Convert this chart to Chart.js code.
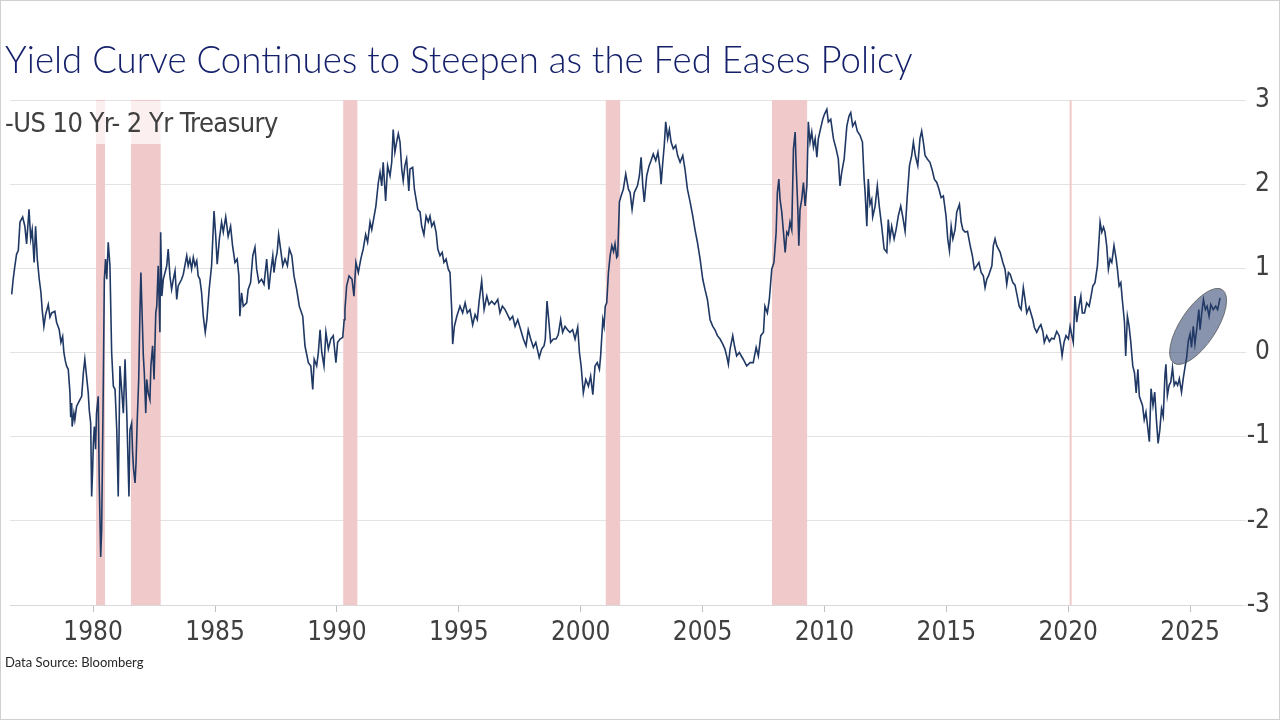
<!DOCTYPE html>
<html>
<head>
<meta charset="utf-8">
<title>Yield Curve</title>
<script src="https://cdn.jsdelivr.net/npm/chart.js@4.4.1/dist/chart.umd.min.js"></script>
<style>
    html, body { margin: 0; padding: 0; background: #fff; }
    #slide { position: relative; width: 1280px; height: 720px; overflow: hidden; }
    #chart { position: absolute; left: 0; top: 0; }
    #frame { position: absolute; left: 0; top: 0; width: 1280px; height: 720px; box-sizing: border-box; border: 1px solid #d0d0d0; pointer-events: none; }
    #title { position: absolute; left: 5px; top: 37px; font-family: Lato, "Open Sans", sans-serif; font-weight: 300; font-size: 36.6px; color: #14206a; white-space: nowrap; }
    #legend { position: absolute; left: 1px; top: 101px; width: 282px; height: 43px; box-sizing: border-box; padding-left: 4px; background: rgba(255, 255, 255, 0.7); font-family: "Liberation Sans Narrow", "DejaVu Sans Condensed", sans-serif; font-size: 27px; letter-spacing: -0.55px; line-height: 43px; color: #404040; white-space: nowrap; }
    #source { position: absolute; left: 5px; top: 654px; font-family: Lato, "Open Sans", sans-serif; font-size: 13px; color: #262626; }
</style>
</head>
<body>
<div id="slide">
    <canvas id="chart" width="1280" height="720"></canvas>
    <div id="title">Yield Curve Continues to Steepen as the Fed Eases Policy</div>
    <div id="legend">-US 10 Yr- 2 Yr Treasury</div>
    <div id="source">Data Source: Bloomberg</div>
    <div id="frame"></div>
</div>
<script>
// US 10 Yr - 2 Yr Treasury spread (%)
const dates = [
    1976.66, 1976.72, 1976.79, 1976.86, 1976.93, 1977.00, 1977.11, 1977.20, 1977.27, 1977.37,
    1977.44, 1977.50, 1977.58, 1977.64, 1977.71, 1977.79, 1977.86, 1977.91, 1977.98, 1978.05,
    1978.16, 1978.23, 1978.30, 1978.43, 1978.50, 1978.61, 1978.68, 1978.75, 1978.80, 1978.86,
    1978.91, 1978.98, 1979.05, 1979.08, 1979.12, 1979.14, 1979.21, 1979.25, 1979.32, 1979.46,
    1979.53, 1979.60, 1979.66, 1979.73, 1979.80, 1979.84, 1979.90, 1979.94, 1979.98, 1980.01,
    1980.05, 1980.10, 1980.14, 1980.21, 1980.25, 1980.31, 1980.35, 1980.42, 1980.46, 1980.51,
    1980.56, 1980.62, 1980.69, 1980.76, 1980.83, 1980.90, 1980.97, 1981.03, 1981.10, 1981.24,
    1981.31, 1981.38, 1981.47, 1981.51, 1981.58, 1981.62, 1981.66, 1981.72, 1981.76, 1981.81,
    1981.87, 1981.92, 1981.96, 1982.00, 1982.06, 1982.10, 1982.16, 1982.20, 1982.26, 1982.33,
    1982.37, 1982.44, 1982.50, 1982.57, 1982.61, 1982.67, 1982.74, 1982.77, 1982.82, 1982.88,
    1983.02, 1983.08, 1983.15, 1983.22, 1983.29, 1983.36, 1983.43, 1983.49, 1983.63, 1983.70,
    1983.84, 1983.90, 1983.97, 1984.04, 1984.11, 1984.18, 1984.25, 1984.31, 1984.38, 1984.45,
    1984.52, 1984.60, 1984.67, 1984.76, 1984.86, 1984.96, 1985.03, 1985.09, 1985.18, 1985.27,
    1985.34, 1985.44, 1985.54, 1985.64, 1985.72, 1985.82, 1985.91, 1985.98, 1986.02, 1986.09,
    1986.16, 1986.30, 1986.36, 1986.46, 1986.55, 1986.64, 1986.71, 1986.80, 1986.91, 1987.01,
    1987.12, 1987.21, 1987.28, 1987.37, 1987.42, 1987.49, 1987.55, 1987.61, 1987.69, 1987.78,
    1987.87, 1987.97, 1988.05, 1988.15, 1988.24, 1988.35, 1988.46, 1988.60, 1988.69, 1988.83,
    1988.93, 1989.01, 1989.07, 1989.17, 1989.24, 1989.31, 1989.38, 1989.47, 1989.55, 1989.65,
    1989.75, 1989.85, 1989.96, 1990.03, 1990.13, 1990.24, 1990.30, 1990.33, 1990.40, 1990.50,
    1990.62, 1990.70, 1990.78, 1990.88, 1990.98, 1991.08, 1991.18, 1991.26, 1991.36, 1991.43,
    1991.60, 1991.70, 1991.77, 1991.84, 1991.90, 1992.00, 1992.08, 1992.18, 1992.25, 1992.31,
    1992.38, 1992.45, 1992.52, 1992.59, 1992.66, 1992.72, 1992.79, 1992.86, 1992.95, 1993.00,
    1993.11, 1993.18, 1993.25, 1993.32, 1993.41, 1993.48, 1993.57, 1993.66, 1993.75, 1993.82,
    1993.89, 1993.98, 1994.07, 1994.14, 1994.23, 1994.32, 1994.39, 1994.48, 1994.57, 1994.64,
    1994.71, 1994.75, 1994.82, 1994.92, 1995.05, 1995.16, 1995.26, 1995.35, 1995.46, 1995.57,
    1995.67, 1995.76, 1995.84, 1995.94, 1996.04, 1996.15, 1996.24, 1996.35, 1996.47, 1996.60,
    1996.69, 1996.79, 1996.90, 1997.00, 1997.10, 1997.21, 1997.31, 1997.42, 1997.54, 1997.65,
    1997.76, 1997.85, 1997.95, 1998.06, 1998.16, 1998.24, 1998.30, 1998.40, 1998.50, 1998.55,
    1998.62, 1998.69, 1998.77, 1998.88, 1998.99, 1999.08, 1999.18, 1999.26, 1999.36, 1999.46,
    1999.56, 1999.67, 1999.77, 1999.88, 1999.95, 2000.02, 2000.11, 2000.21, 2000.32, 2000.41,
    2000.50, 2000.59, 2000.68, 2000.77, 2000.82, 2000.91, 2000.96, 2001.01, 2001.07, 2001.14,
    2001.21, 2001.28, 2001.35, 2001.41, 2001.48, 2001.52, 2001.59, 2001.66, 2001.75, 2001.85,
    2001.96, 2002.03, 2002.11, 2002.20, 2002.33, 2002.41, 2002.48, 2002.55, 2002.61, 2002.71,
    2002.81, 2002.89, 2002.98, 2003.08, 2003.17, 2003.26, 2003.30, 2003.37, 2003.43, 2003.49,
    2003.57, 2003.64, 2003.71, 2003.80, 2003.90, 2003.98, 2004.08, 2004.19, 2004.28, 2004.38,
    2004.49, 2004.60, 2004.69, 2004.79, 2004.90, 2005.01, 2005.10, 2005.20, 2005.31, 2005.42,
    2005.51, 2005.61, 2005.72, 2005.83, 2005.92, 2005.99, 2006.06, 2006.13, 2006.24, 2006.31,
    2006.40, 2006.51, 2006.67, 2006.81, 2006.95, 2007.08, 2007.20, 2007.29, 2007.39, 2007.50,
    2007.56, 2007.66, 2007.74, 2007.84, 2007.93, 2008.02, 2008.07, 2008.13, 2008.18, 2008.25,
    2008.32, 2008.39, 2008.46, 2008.52, 2008.59, 2008.66, 2008.73, 2008.80, 2008.84, 2008.91,
    2008.95, 2009.00, 2009.07, 2009.14, 2009.21, 2009.28, 2009.34, 2009.41, 2009.48, 2009.55,
    2009.62, 2009.69, 2009.75, 2009.82, 2009.93, 2010.00, 2010.10, 2010.16, 2010.26, 2010.37,
    2010.48, 2010.57, 2010.64, 2010.71, 2010.81, 2010.92, 2011.01, 2011.08, 2011.16, 2011.26,
    2011.35, 2011.46, 2011.56, 2011.63, 2011.67, 2011.74, 2011.80, 2011.87, 2011.94, 2011.98,
    2012.08, 2012.17, 2012.25, 2012.35, 2012.45, 2012.56, 2012.62, 2012.69, 2012.76, 2012.86,
    2012.94, 2013.03, 2013.13, 2013.21, 2013.31, 2013.40, 2013.49, 2013.58, 2013.65, 2013.73,
    2013.83, 2013.92, 2013.99, 2014.06, 2014.13, 2014.22, 2014.33, 2014.43, 2014.51, 2014.61,
    2014.70, 2014.79, 2014.88, 2014.99, 2015.06, 2015.13, 2015.20, 2015.27, 2015.36, 2015.43,
    2015.54, 2015.61, 2015.68, 2015.77, 2015.87, 2015.98, 2016.07, 2016.15, 2016.25, 2016.34,
    2016.43, 2016.52, 2016.59, 2016.66, 2016.73, 2016.87, 2016.93, 2017.00, 2017.07, 2017.21,
    2017.32, 2017.41, 2017.48, 2017.55, 2017.62, 2017.73, 2017.82, 2017.89, 2017.99, 2018.07,
    2018.16, 2018.23, 2018.30, 2018.40, 2018.47, 2018.55, 2018.61, 2018.71, 2018.81, 2018.88,
    2018.96, 2019.02, 2019.12, 2019.23, 2019.32, 2019.42, 2019.53, 2019.63, 2019.70, 2019.75,
    2019.83, 2019.91, 2020.01, 2020.08, 2020.15, 2020.21, 2020.28, 2020.35, 2020.42, 2020.52,
    2020.58, 2020.67, 2020.76, 2020.86, 2020.94, 2021.01, 2021.10, 2021.20, 2021.26, 2021.31,
    2021.38, 2021.45, 2021.51, 2021.58, 2021.65, 2021.72, 2021.79, 2021.88, 2021.97, 2022.02,
    2022.09, 2022.16, 2022.22, 2022.31, 2022.36, 2022.43, 2022.50, 2022.57, 2022.65, 2022.72,
    2022.79, 2022.86, 2022.92, 2023.05, 2023.12, 2023.19, 2023.26, 2023.33, 2023.40, 2023.48,
    2023.55, 2023.62, 2023.69, 2023.76, 2023.83, 2023.90, 2023.97, 2024.01, 2024.07, 2024.14,
    2024.21, 2024.28, 2024.35, 2024.42, 2024.49, 2024.56, 2024.65, 2024.72, 2024.79, 2024.86,
    2024.93, 2025.00, 2025.06, 2025.13, 2025.20, 2025.27, 2025.36, 2025.41, 2025.48, 2025.55,
    2025.63, 2025.70, 2025.78, 2025.85, 2025.95, 2026.05, 2026.13, 2026.23
];

const spread = [
    0.69, 0.87, 1.03, 1.17, 1.21, 1.55, 1.61, 1.50, 1.29, 1.70,
    1.35, 1.46, 1.07, 1.50, 1.11, 0.87, 0.71, 0.51, 0.31, 0.45,
    0.57, 0.42, 0.47, 0.49, 0.36, 0.27, 0.12, 0.19, 0.00, -0.10,
    -0.16, -0.20, -0.48, -0.77, -0.60, -0.88, -0.72, -0.80, -0.64, -0.56,
    -0.52, -0.24, -0.08, -0.28, -0.48, -0.68, -0.84, -1.71, -1.39, -1.07,
    -0.88, -1.15, -0.72, -0.52, -1.51, -2.43, -2.11, -0.32, 0.87, 1.11,
    0.87, 1.31, 1.03, 0.00, -0.40, -0.44, -0.92, -1.71, -0.16, -0.72,
    -0.08, -0.72, -1.71, -0.92, -0.84, -1.19, -1.39, -1.55, -1.31, -0.80,
    -0.32, 0.47, 0.95, 0.55, -0.04, -0.24, -0.72, -0.32, -0.48, -0.56,
    -0.16, 0.08, -0.32, 0.47, 0.55, 1.03, 0.24, 1.43, 0.67, 0.87,
    1.03, 1.23, 0.91, 0.75, 0.87, 0.97, 0.63, 0.79, 0.87, 0.93,
    1.15, 1.03, 1.11, 0.99, 1.13, 1.03, 1.09, 0.91, 0.87, 0.71,
    0.43, 0.24, 0.40, 0.75, 1.03, 1.68, 1.38, 1.05, 1.35, 1.55,
    1.43, 1.61, 1.38, 1.50, 1.27, 1.07, 1.11, 0.91, 0.43, 0.71,
    0.55, 0.59, 0.75, 0.83, 1.15, 1.25, 0.99, 0.83, 0.87, 0.81,
    1.11, 0.75, 0.95, 1.15, 0.95, 1.11, 1.19, 1.40, 1.23, 1.03,
    1.11, 1.03, 1.23, 1.15, 0.91, 0.75, 0.55, 0.43, 0.08, -0.12,
    -0.16, -0.44, -0.08, -0.16, 0.00, 0.27, 0.00, -0.16, 0.24, 0.04,
    0.16, 0.20, -0.12, 0.12, 0.16, 0.18, 0.39, 0.51, 0.79, 0.91,
    0.87, 0.67, 1.07, 0.95, 1.11, 1.23, 1.40, 1.31, 1.55, 1.46,
    1.74, 2.02, 2.14, 1.98, 2.26, 1.80, 2.22, 2.10, 2.26, 2.65,
    2.38, 2.50, 2.60, 2.50, 2.18, 2.04, 2.22, 2.30, 1.92, 2.18,
    2.20, 1.94, 1.82, 1.70, 1.67, 1.50, 1.40, 1.62, 1.55, 1.62,
    1.50, 1.55, 1.43, 1.23, 1.15, 1.19, 1.07, 1.11, 0.99, 0.95,
    0.51, 0.10, 0.31, 0.43, 0.55, 0.47, 0.59, 0.47, 0.51, 0.33,
    0.45, 0.39, 0.62, 0.85, 0.51, 0.67, 0.57, 0.61, 0.57, 0.63,
    0.47, 0.55, 0.51, 0.45, 0.39, 0.43, 0.31, 0.39, 0.27, 0.16,
    0.08, 0.27, 0.16, 0.06, 0.12, 0.02, -0.06, 0.04, 0.08, 0.16,
    0.61, 0.39, 0.12, 0.16, 0.16, 0.21, 0.39, 0.24, 0.31, 0.27,
    0.24, 0.27, 0.16, 0.30, 0.00, -0.16, -0.48, -0.32, -0.40, -0.28,
    -0.50, -0.16, -0.12, -0.20, -0.04, 0.39, 0.31, 0.55, 0.59, 0.95,
    1.15, 1.27, 1.20, 1.29, 1.13, 1.15, 1.79, 1.86, 1.94, 2.12,
    1.94, 1.90, 1.70, 1.90, 1.98, 2.10, 2.32, 1.98, 1.79, 2.10,
    2.22, 2.28, 2.36, 2.28, 2.38, 2.18, 2.00, 2.26, 2.46, 2.74,
    2.54, 2.65, 2.50, 2.42, 2.46, 2.34, 2.26, 2.34, 2.18, 1.94,
    1.79, 1.62, 1.46, 1.31, 1.11, 0.87, 0.75, 0.63, 0.39, 0.31,
    0.27, 0.20, 0.16, 0.10, 0.04, -0.04, -0.14, 0.04, 0.20, 0.08,
    -0.04, 0.00, -0.08, -0.16, -0.12, -0.12, 0.06, -0.04, 0.20, 0.24,
    0.55, 0.47, 0.63, 0.99, 1.07, 1.43, 1.90, 2.06, 1.82, 1.67,
    1.43, 1.19, 1.43, 1.40, 1.55, 1.46, 2.42, 2.62, 2.22, 1.70,
    1.27, 1.70, 1.82, 2.02, 1.74, 1.98, 2.74, 2.50, 2.62, 2.44,
    2.54, 2.32, 2.54, 2.63, 2.77, 2.83, 2.89, 2.74, 2.77, 2.54,
    2.42, 2.30, 1.98, 2.14, 2.30, 2.69, 2.81, 2.85, 2.69, 2.74,
    2.63, 2.58, 2.50, 2.06, 1.90, 1.50, 2.06, 1.76, 1.82, 1.61,
    1.74, 1.98, 1.74, 1.50, 1.23, 1.19, 1.58, 1.35, 1.50, 1.35,
    1.46, 1.62, 1.74, 1.62, 1.44, 1.86, 2.22, 2.34, 2.50, 2.34,
    2.22, 2.54, 2.63, 2.50, 2.34, 2.30, 2.26, 2.16, 2.06, 2.02,
    1.94, 1.84, 1.86, 1.62, 1.35, 1.21, 1.50, 1.35, 1.46, 1.67,
    1.76, 1.55, 1.46, 1.43, 1.44, 1.27, 1.15, 0.99, 1.03, 1.07,
    0.95, 0.91, 0.77, 0.87, 0.91, 1.03, 1.27, 1.35, 1.27, 1.19,
    1.07, 0.99, 0.81, 0.95, 0.93, 0.83, 0.80, 0.70, 0.55, 0.51,
    0.77, 0.63, 0.47, 0.54, 0.47, 0.39, 0.30, 0.24, 0.30, 0.33,
    0.25, 0.12, 0.20, 0.13, 0.17, 0.16, 0.25, 0.20, 0.08, -0.04,
    0.12, 0.20, 0.16, 0.31, 0.20, 0.12, 0.67, 0.36, 0.51, 0.67,
    0.47, 0.47, 0.59, 0.55, 0.67, 0.79, 0.83, 1.03, 1.31, 1.55,
    1.43, 1.49, 1.43, 1.27, 0.99, 1.11, 1.07, 1.27, 1.11, 0.99,
    0.79, 0.83, 0.63, 0.36, -0.04, 0.43, 0.31, 0.12, -0.16, -0.24,
    -0.48, -0.20, -0.52, -0.63, -0.80, -0.71, -0.88, -1.06, -0.43, -0.63,
    -0.47, -0.80, -1.08, -0.92, -0.67, -0.76, -0.27, -0.14, -0.51, -0.39,
    -0.35, -0.18, -0.39, -0.35, -0.39, -0.31, -0.47, -0.31, -0.18, -0.06,
    0.14, 0.22, 0.06, 0.31, 0.10, 0.27, 0.51, 0.27, 0.47, 0.63,
    0.51, 0.55, 0.43, 0.57, 0.51, 0.55, 0.51, 0.65
];

// X axis labels
const tickYears = [1980, 1985, 1990, 1995, 2000, 2005, 2010, 2015, 2020, 2025];

// Recession periods (shaded)
const recessionStart = [1980.12, 1981.55, 1990.26, 2001.03, 2007.85, 2020.06];
const recessionEnd = [1980.49, 1982.77, 1990.84, 2001.62, 2009.29, 2020.14];

// Highlight ellipse round the latest steepening
const ellipseCenter = { x: 2025.33, y: 0.31 };

if (dates.length !== spread.length) console.warn('dates/spread length mismatch', dates.length, spread.length);

const axisFont = { family: '"Liberation Sans Narrow", "DejaVu Sans Condensed", sans-serif', size: 26 };

// Shade recession bands behind the line
const recessionBands = {
    id: 'recessionBands',
    beforeDatasetsDraw(chart) {
        const { ctx, chartArea, scales } = chart;
        ctx.save();
        ctx.fillStyle = '#f0caca';
        recessionStart.forEach((start, i) => {
            const x1 = scales.x.getPixelForValue(start);
            const x2 = scales.x.getPixelForValue(recessionEnd[i]);
            ctx.fillRect(x1, chartArea.top, Math.max(x2 - x1, 2), chartArea.bottom - chartArea.top);
        });
        ctx.restore();
    }
};

// Draw the highlight ellipse over the line
const highlightEllipse = {
    id: 'highlightEllipse',
    afterDatasetsDraw(chart) {
        const { ctx, scales } = chart;
        const cx = scales.x.getPixelForValue(ellipseCenter.x);
        const cy = scales.y.getPixelForValue(ellipseCenter.y);
        ctx.save();
        ctx.beginPath();
        ctx.ellipse(cx, cy, 44, 18, -56.6 * Math.PI / 180, 0, Math.PI * 2);
        ctx.fillStyle = 'rgba(38, 60, 105, 0.55)';
        ctx.fill();
        ctx.lineWidth = 1;
        ctx.strokeStyle = 'rgba(90, 90, 90, 0.8)';
        ctx.stroke();
        ctx.restore();
    }
};

const ctx = document.getElementById('chart').getContext('2d');
const spreadChart = new Chart(ctx, {
    type: 'line',
    data: {
        datasets: [{
            label: 'US 10 Yr- 2 Yr Treasury',
            data: dates.map((d, i) => ({ x: d, y: spread[i] })),
            borderColor: '#1f3864',
            borderWidth: 1.6,
            pointRadius: 0,
            tension: 0,
            fill: false
        }]
    },
    options: {
        responsive: false,
        animation: false,
        layout: { padding: { left: 10, top: 100, right: 10, bottom: 65 } },
        plugins: { legend: { display: false }, tooltip: { enabled: false } },
        scales: {
            x: {
                type: 'linear',
                min: 1976.59,
                max: 2027.09,
                afterBuildTicks: scale => { scale.ticks = tickYears.map(v => ({ value: v })); },
                afterFit: scale => { scale.height = 50; },
                grid: { drawOnChartArea: false, drawTicks: true, tickLength: 7, color: '#bfbfbf' },
                border: { display: true, color: '#d9d9d9' },
                ticks: { font: axisFont, color: '#404040', padding: 6, maxRotation: 0, autoSkip: false, callback: v => String(v) }
            },
            y: {
                position: 'right',
                min: -3,
                max: 3,
                afterFit: scale => { scale.width = 29; },
                grid: { color: '#e3e3e3', tickLength: 5 },
                border: { display: false },
                ticks: { stepSize: 1, font: axisFont, color: '#404040', padding: 6, crossAlign: 'far' }
            }
        }
    },
    plugins: [recessionBands, highlightEllipse]
});
</script>
</body>
</html>
